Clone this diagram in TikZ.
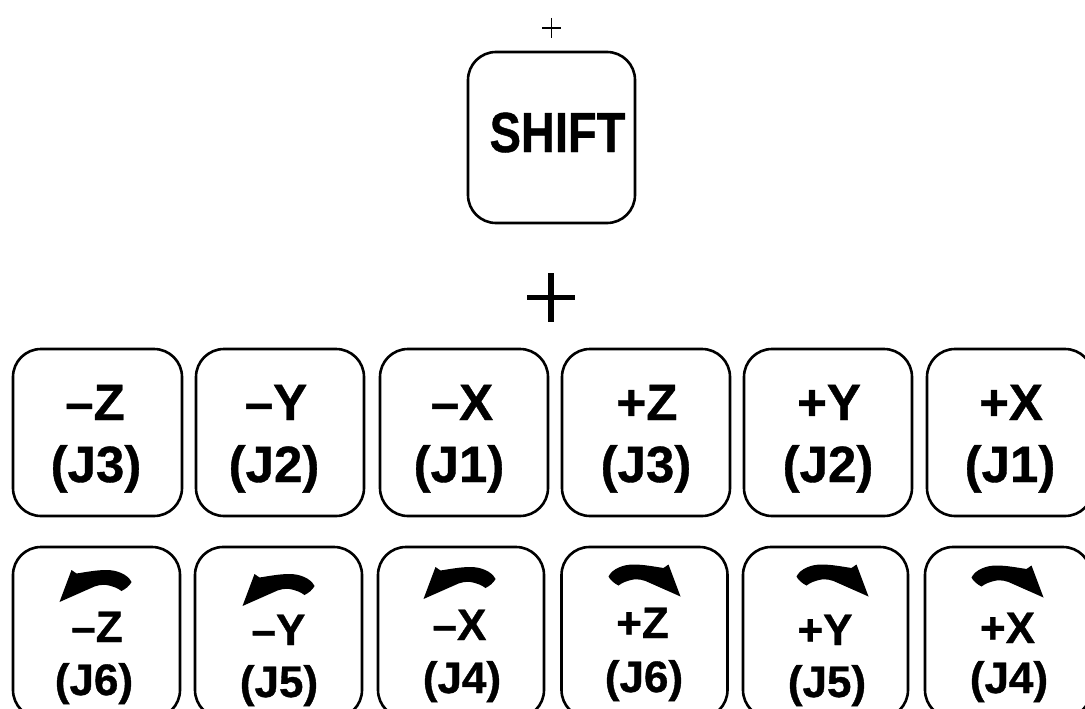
\documentclass[tikz,border=0pt]{standalone}
\usepackage{fontspec}
\setmainfont{Liberation Sans}
\newfontfamily\keyfont{Liberation Sans Bold}[FakeBold=0.8]
\usepackage{graphicx}
\tikzset{
  keybox/.style={draw, line width=2.6pt, rounded corners=28pt, inner sep=0pt, outer sep=0pt},
  biglab/.style={anchor=base, inner sep=0pt, font=\keyfont\fontsize{51}{51}\selectfont},
  smlab/.style={anchor=base, inner sep=0pt, font=\keyfont\fontsize{44}{44}\selectfont},
  rotl/.pic={
    \fill[black] (35,-5) .. controls (31,-13) and (20,-17) .. (10,-17)
      .. controls (0,-17) and (-10,-15) .. (-20,-13.5) -- (-25,-17) -- (-37,15)
      -- (-6.5,1.5) .. controls (0,-2) and (6,-2.5) .. (10,-2)
      .. controls (16,-1) and (21,1) .. (25,4)
      .. controls (29,2) and (33,-1) .. (35,-5) -- cycle;
  }
}
\begin{document}
\begin{tikzpicture}[x=1pt,y=-1pt]
\useasboundingbox (0,0) rectangle (1085,709);
\clip (0,0) rectangle (1085,709);
% small plus
\coordinate (sp1) at (542,28); \coordinate (sp2) at (561,28);
\coordinate (sp3) at (551.5,18); \coordinate (sp4) at (551.5,38);
\draw[line width=1.2pt] (sp1) -- (sp2) (sp3) -- (sp4);
% shift key
\node[keybox, minimum width=167pt, minimum height=171pt] (shift) at (551.5,137.5) {};
\node[anchor=base, inner sep=0pt, font=\keyfont\fontsize{47}{47}\selectfont] (shiftt) at (557.5,152) {\scalebox{1}[1.2]{SHIFT}};
% big plus
\coordinate (bp1) at (527,297); \coordinate (bp2) at (575,297);
\coordinate (bp3) at (551,273); \coordinate (bp4) at (551,322);
\draw[line width=5pt] (bp1) -- (bp2);
\draw[line width=5.5pt] (bp3) -- (bp4);
% top row keys
\node[keybox, minimum width=169pt, minimum height=167pt] (t1) at (97.5,432.5) {};
\node[keybox, minimum width=168pt, minimum height=167pt] (t2) at (280,432.5) {};
\node[keybox, minimum width=168pt, minimum height=167pt] (t3) at (464,432.5) {};
\node[keybox, minimum width=168pt, minimum height=167pt] (t4) at (646,432.5) {};
\node[keybox, minimum width=168pt, minimum height=167pt] (t5) at (828,432.5) {};
\node[keybox, minimum width=166pt, minimum height=167pt] (t6) at (1010,432.5) {};
\node[biglab] (t1a) at (95,420) {–Z};
\node[biglab] (t1b) at (96,482) {(J3)};
\node[biglab] (t2a) at (276,420) {–Y};
\node[biglab] (t2b) at (274,482) {(J2)};
\node[biglab] (t3a) at (462,420) {–X};
\node[biglab] (t3b) at (459,482) {(J1)};
\node[biglab] (t4a) at (647,420) {+Z};
\node[biglab] (t4b) at (646,482) {(J3)};
\node[biglab] (t5a) at (829,420) {+Y};
\node[biglab] (t5b) at (828,482) {(J2)};
\node[biglab] (t6a) at (1011,420) {+X};
\node[biglab] (t6b) at (1010,482) {(J1)};
% bottom row keys
\node[keybox, minimum width=167pt, minimum height=171pt] (b1) at (96.5,632.5) {};
\node[keybox, minimum width=167pt, minimum height=171pt] (b2) at (278.5,632.5) {};
\node[keybox, minimum width=166pt, minimum height=171pt] (b3) at (461,632.5) {};
\node[keybox, minimum width=166pt, minimum height=171pt] (b4) at (644.5,632.5) {};
\node[keybox, minimum width=165pt, minimum height=171pt] (b5) at (825.5,632.5) {};
\node[keybox, minimum width=166pt, minimum height=171pt] (b6) at (1008,632.5) {};
\pic (r1) at (96.5,587) {rotl};
\pic (r2) at (279.5,591) {rotl};
\pic (r3) at (460.5,584) {rotl};
\pic[xscale=-1] (r4) at (643.5,581.5) {rotl};
\pic[xscale=-1] (r5) at (831.5,581.5) {rotl};
\pic[xscale=-1] (r6) at (1006.5,582.5) {rotl};
\node[smlab] (b1a) at (97,642) {–Z};
\node[smlab] (b1b) at (94,695) {(J6)};
\node[smlab] (b2a) at (278.5,645) {–Y};
\node[smlab] (b2b) at (279,697) {(J5)};
\node[smlab] (b3a) at (459.5,640) {–X};
\node[smlab] (b3b) at (462,693) {(J4)};
\node[smlab] (b4a) at (642.5,638) {+Z};
\node[smlab] (b4b) at (644,692) {(J6)};
\node[smlab] (b5a) at (825,645) {+Y};
\node[smlab] (b5b) at (827,697) {(J5)};
\node[smlab] (b6a) at (1007.5,643) {+X};
\node[smlab] (b6b) at (1009,693) {(J4)};
\end{tikzpicture}
\end{document}
